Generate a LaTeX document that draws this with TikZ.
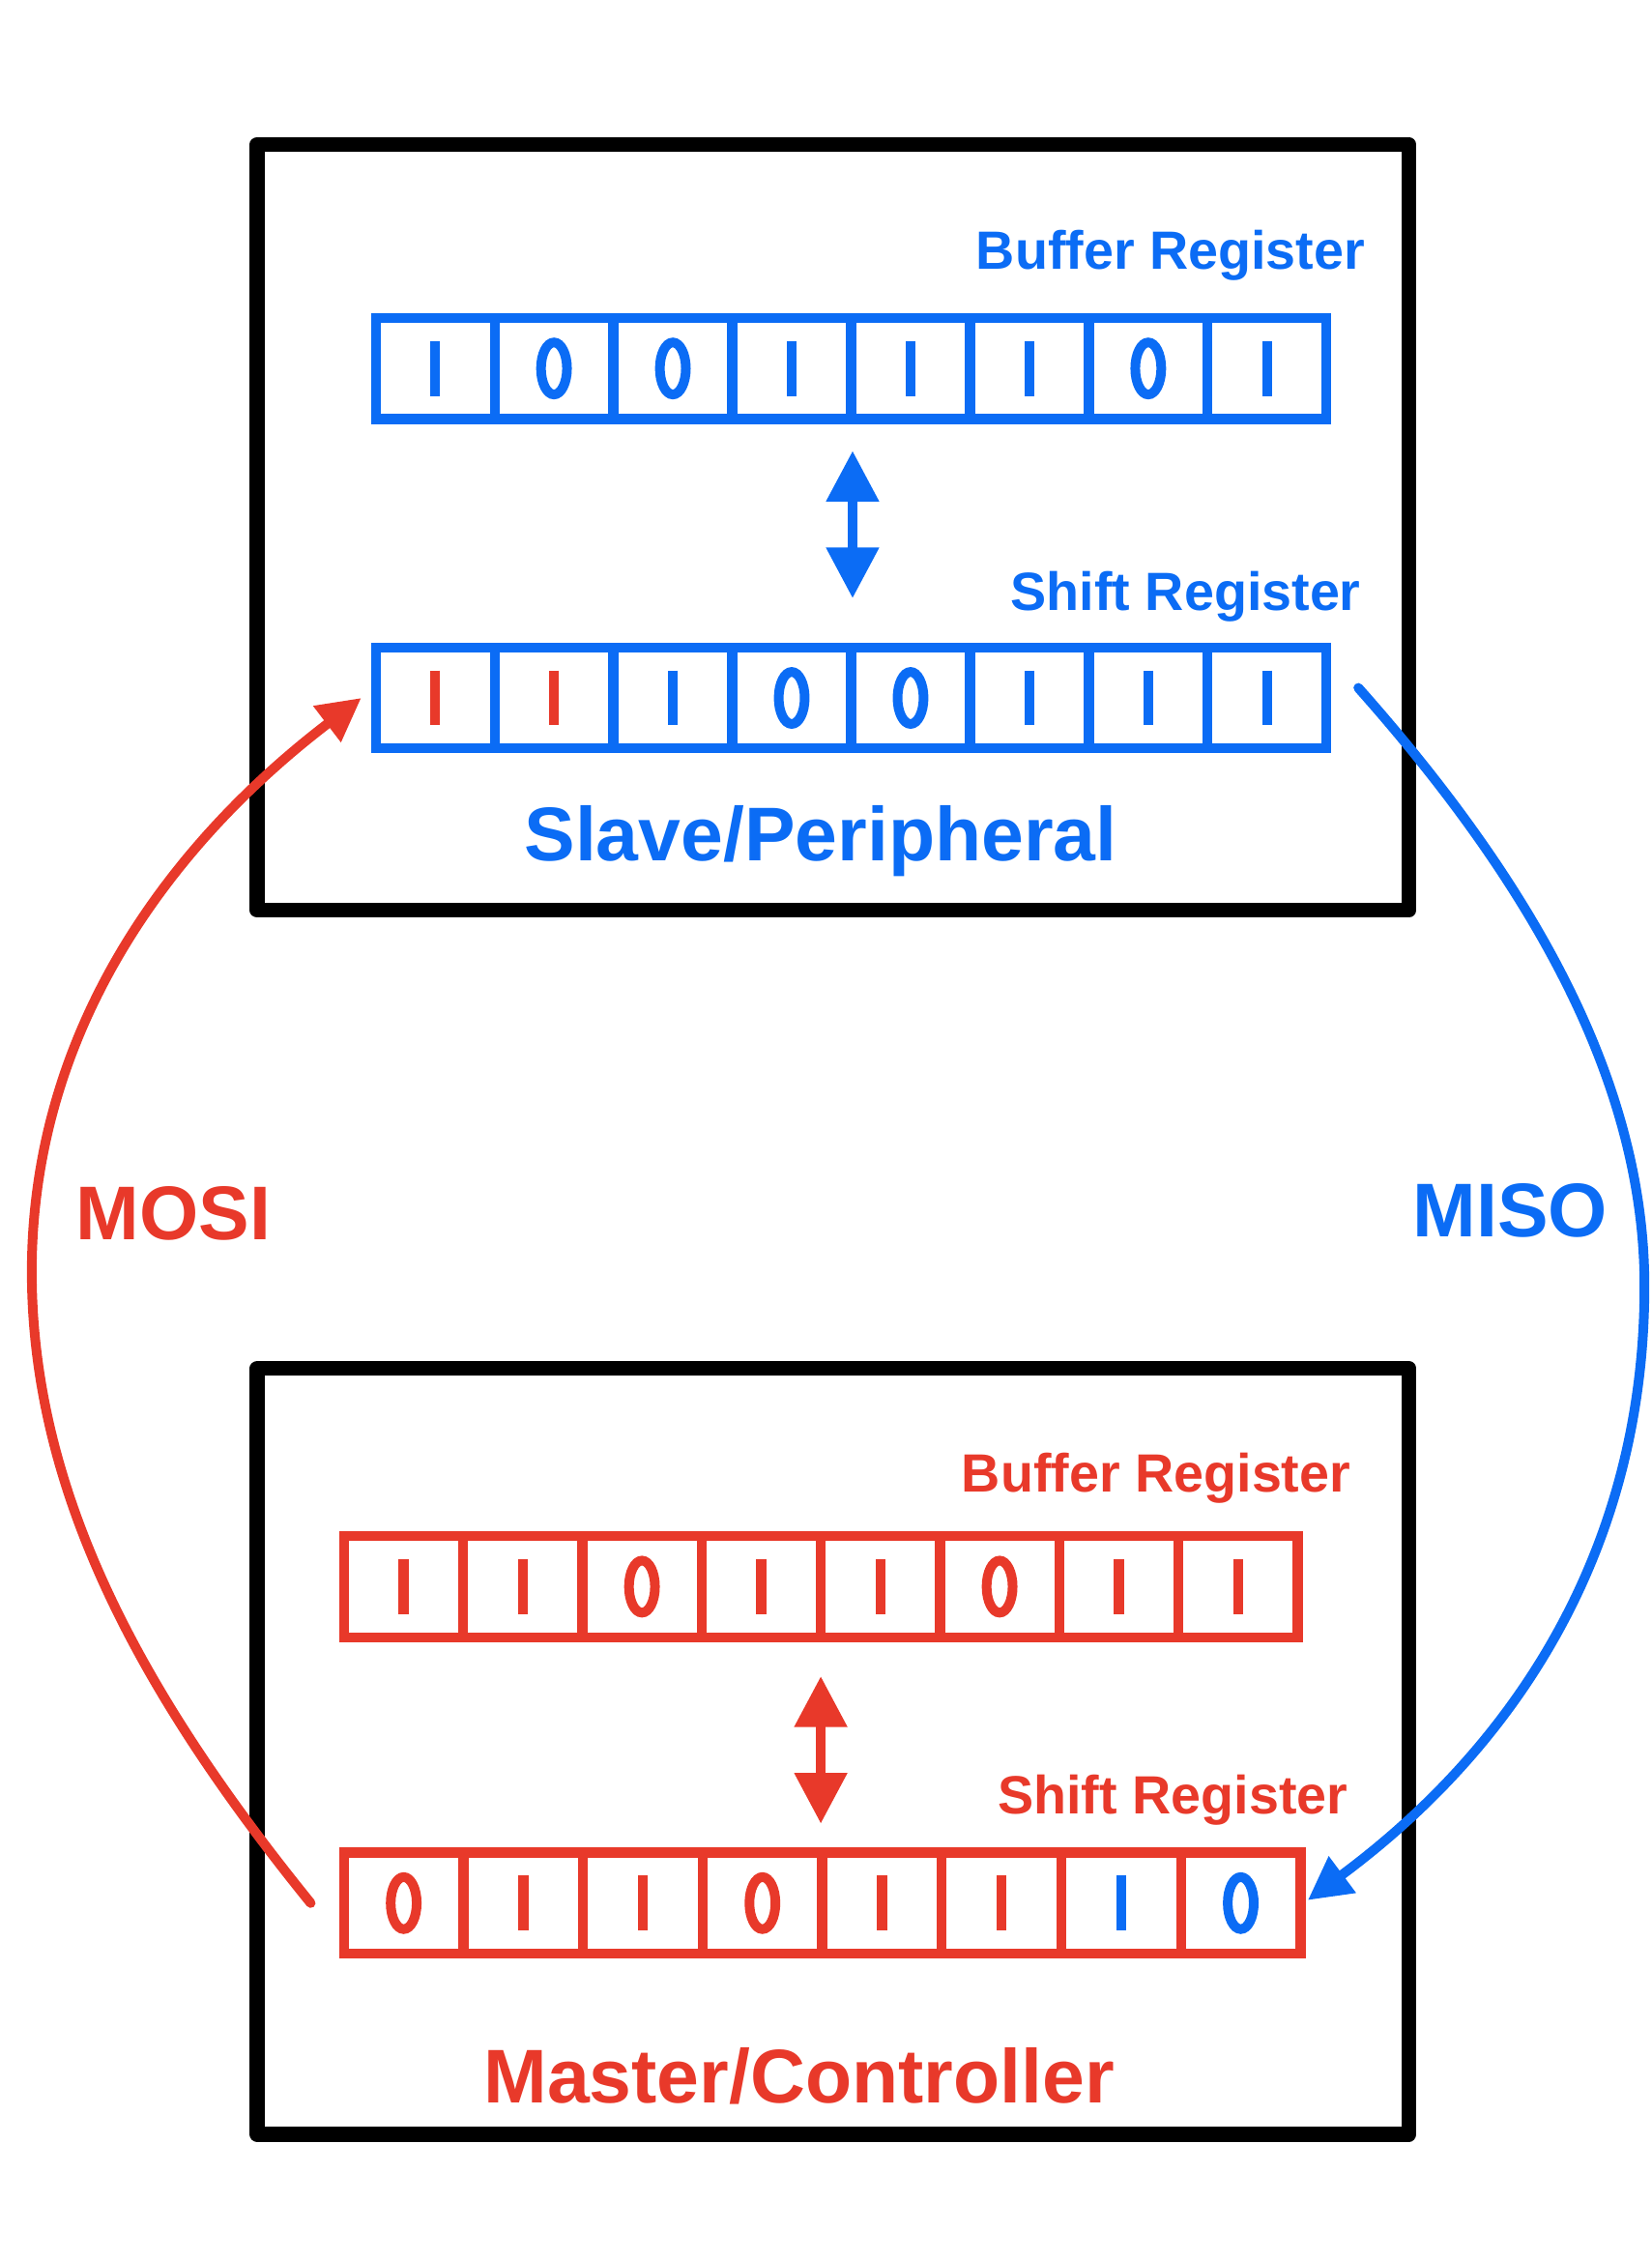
\documentclass[tikz,border=0pt]{standalone}
\usepackage{fontspec}
\setmainfont{Liberation Sans}
\usetikzlibrary{arrows.meta}
\definecolor{sblue}{RGB}{11,108,245}
\definecolor{sred}{RGB}{232,57,42}
\begin{document}
\begin{tikzpicture}[x=0.02cm,y=-0.02cm,
  box/.style={line width=5.8pt,line join=round},
  cellst/.style={line width=3.9pt},
  lbl/.style={font=\bfseries\fontsize{21.2}{24}\selectfont,anchor=east,inner sep=0},
  title/.style={font=\bfseries\fontsize{30}{34}\selectfont,inner sep=0},
  dbl/.style={line width=3.8pt,{Triangle[length=20pt,width=20pt]}-{Triangle[length=20pt,width=20pt]}},
  link/.style={line width=3.8pt,-{Triangle[length=17pt,width=17pt]}}]
\useasboundingbox (0,0) rectangle (1143,1564);
% boxes
\draw[box] (178,100) rectangle (975,630);
\draw[box] (178,947) rectangle (975,1477);
\newcommand{\myreg}[5]{%
  \pgfmathsetmacro{\cw}{(#3-#2)/8}
  \foreach [count=\i] \b/\c in {#5}{%
    \pgfmathsetmacro{\xc}{#2+(\i-0.5)*\cw}
    \coordinate (#1-\i) at (\xc,#4);
    \ifnum\b=1 \draw[\c,line width=4pt] (\xc,#4-19) -- (\xc,#4+19);
    \else \draw[\c,line width=3.8pt] (\xc,#4) ellipse [x radius=9,y radius=18];\fi
  }
}
% top buffer
\draw[sblue,cellst] (260,220) rectangle (918,290);
\foreach \k in {1,...,7}{\draw[sblue,cellst] (260+\k*82.25,220)--(260+\k*82.25,290);}
\myreg{tb}{260}{918}{255}{1/sblue,0/sblue,0/sblue,1/sblue,1/sblue,1/sblue,0/sblue,1/sblue}
% top shift
\draw[sblue,cellst] (260,448) rectangle (918,518);
\foreach \k in {1,...,7}{\draw[sblue,cellst] (260+\k*82.25,448)--(260+\k*82.25,518);}
\myreg{ts}{260}{918}{483}{1/sred,1/sred,1/sblue,0/sblue,0/sblue,1/sblue,1/sblue,1/sblue}
\node[lbl,text=sblue] (tbl) at (945,177) {Buffer Register};
\node[lbl,text=sblue] (tsl) at (942,413) {Shift Register};
\coordinate (ta1) at (590,312); \coordinate (ta2) at (590,414);
\draw[dbl,sblue] (ta1) -- (ta2);
\node[title,text=sblue] (slave) at (568,582) {Slave/Peripheral};
% bottom buffer
\draw[sred,cellst] (238,1063) rectangle (898,1133);
\foreach \k in {1,...,7}{\draw[sred,cellst] (238+\k*82.5,1063)--(238+\k*82.5,1133);}
\myreg{bb}{238}{898}{1098}{1/sred,1/sred,0/sred,1/sred,1/sred,0/sred,1/sred,1/sred}
% bottom shift
\draw[sred,cellst] (238,1282) rectangle (900,1352);
\foreach \k in {1,...,7}{\draw[sred,cellst] (238+\k*82.75,1282)--(238+\k*82.75,1352);}
\myreg{bs}{238}{900}{1317}{0/sred,1/sred,1/sred,0/sred,1/sred,1/sred,1/sblue,0/sblue}
\node[lbl,text=sred] (bbl) at (935,1023) {Buffer Register};
\node[lbl,text=sred] (bsl) at (933,1246) {Shift Register};
\coordinate (ba1) at (568,1160); \coordinate (ba2) at (568,1262);
\draw[dbl,sred] (ba1) -- (ba2);
\node[title,text=sred] (master) at (553,1437) {Master/Controller};
% links
\coordinate (mosiS) at (215,1317); \coordinate (mosiE) at (250,483);
\coordinate (misoS) at (940,476); \coordinate (misoE) at (905,1315);
\draw[link,sred,line cap=round] (mosiS) .. controls (100,1175) and (22,1035) .. (22,880) .. controls (22,720) and (110,590) .. (mosiE);
\draw[link,sblue,line cap=round] (misoS) .. controls (1050,600) and (1138,740) .. (1138,890) .. controls (1138,1060) and (1060,1200) .. (misoE);
\node[title,text=sred] (mosi) at (120,840) {MOSI};
\node[title,text=sblue] (miso) at (1045,838) {MISO};
\end{tikzpicture}
\end{document}
